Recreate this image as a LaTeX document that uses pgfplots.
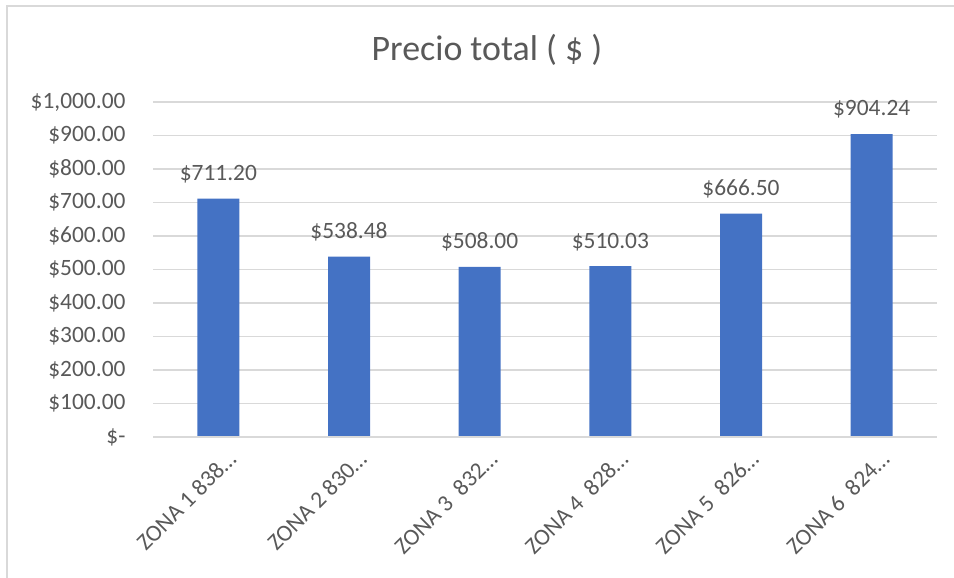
\documentclass[border=0pt]{standalone}
\usepackage{pgfplots}
\pgfplotsset{compat=1.18}
\usepackage{fontspec}
\setmainfont{Carlito}
\definecolor{barblue}{HTML}{4472C4}
\definecolor{gridgray}{HTML}{D9D9D9}
\definecolor{txtgray}{HTML}{595959}
\begin{document}
\begin{tikzpicture}[x=1bp,y=1bp]
\path[use as bounding box] (0,0) rectangle (954,578);
\draw[gridgray, line width=2bp] (7,0) -- (7,572) -- (954,572);
\node[txtgray, font=\fontsize{36}{42}\selectfont] at (487,528) {Precio total ( \$ )};
\begin{axis}[
  at={(153bp,141bp)}, anchor=south west,
  scale only axis, width=784bp, height=335bp,
  xmin=-0.5, xmax=5.5, ymin=0, ymax=1000,
  /pgf/number format/assume math mode=true,
  ytick={0,100,...,1000},
  yticklabels={\$-,\$100.00,\$200.00,\$300.00,\$400.00,\$500.00,\$600.00,\$700.00,\$800.00,\$900.00,{\$1,000.00}},
  xtick={0,1,2,3,4,5},
  xticklabels={ZONA 1 838…,ZONA 2 830…,ZONA 3\ \ 832…,ZONA 4\ \ 828…,ZONA 5\ \ 826…,ZONA 6\ \ 824…},
  axis line style={draw=none},
  axis x line*=bottom,
  ymajorgrids, grid style={gridgray, line width=1.3bp},
  major tick length=0pt,
  tick label style={txtgray, font=\fontsize{23.5}{28}\selectfont},
  yticklabel style={xshift=-24bp},
  xticklabel style={rotate=45, anchor=north east, inner sep=0pt, xshift=-3bp, yshift=-14bp},
  ybar, bar width=42bp,
  nodes near coords={\$\pgfmathprintnumber[fixed,fixed zerofill,precision=2]{\pgfplotspointmeta}},
  nodes near coords style={txtgray, font=\fontsize{23.5}{28}\selectfont, yshift=12bp},
]
\addplot[fill=barblue, draw=none] coordinates {(0,711.20) (1,538.48) (2,508.00) (3,510.03) (4,666.50) (5,904.24)};
\draw[gridgray, line width=1.3bp] (axis cs:-0.5,0) -- (axis cs:5.5,0);
\end{axis}
\end{tikzpicture}
\end{document}
